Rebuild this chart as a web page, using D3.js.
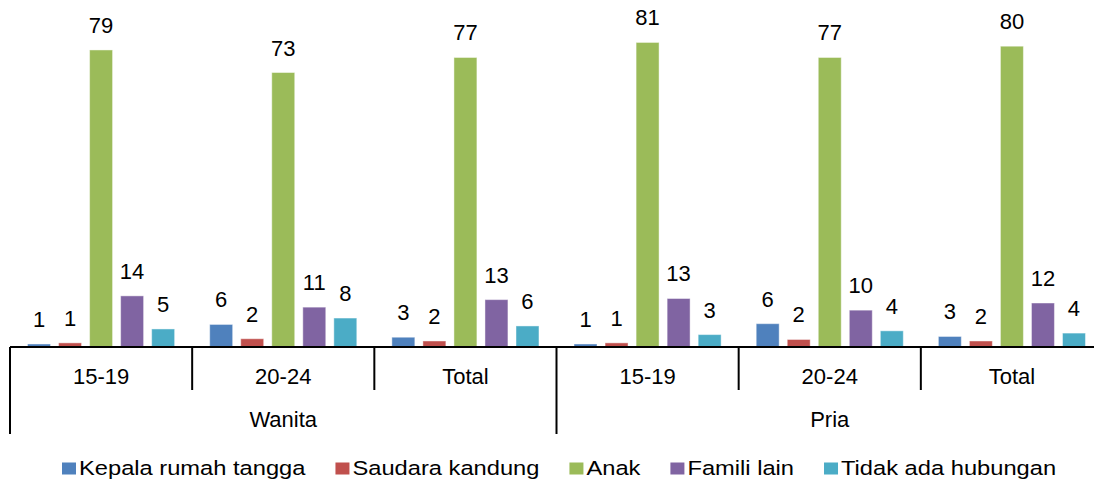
<!DOCTYPE html>
<html>
<head>
<meta charset="utf-8">
<script src="https://cdn.jsdelivr.net/npm/d3@7"></script>
<style>
  body { margin: 0; background: #fff; }
  svg { font-family: "Liberation Sans", Arial, sans-serif; display: block; }
</style>
</head>
<body>
<svg id="chart" width="1094" height="485"></svg>
<script>
// data
const sexes = ['Wanita', 'Pria'];
const ages = ['15-19', '20-24', 'Total'];
const seriesNames = ['Kepala rumah tangga', 'Saudara kandung', 'Anak', 'Famili lain', 'Tidak ada hubungan'];
const seriesColors = ['#4F81BD', '#C0504D', '#9BBB59', '#8064A2', '#4BACC6'];

// one array per series, in order: Wanita 15-19, 20-24, Total, Pria 15-19, 20-24, Total
const kepala = [0.8, 6.0, 2.6, 0.8, 6.2, 2.8];
const saudara = [1.1, 2.2, 1.6, 1.1, 2.0, 1.6];
const anak = [79, 73, 77, 81, 77, 80];
const famili = [13.6, 10.6, 12.6, 12.9, 9.8, 11.7];
const tidak = [4.8, 7.7, 5.6, 3.3, 4.3, 3.7];

const seriesValues = [kepala, saudara, anak, famili, tidak];

const categories = [];
sexes.forEach(s => ages.forEach(a => categories.push({ sex: s, age: a, key: s + ' ' + a })));

const svg = d3.select('#chart');
const axisY = 347;
const left = 10, right = 1103;

const x0 = d3.scaleBand()
    .domain(categories.map(c => c.key))
    .range([left, right]);

const x1 = d3.scaleBand()
    .domain(seriesNames)
    .range([0, x0.bandwidth()])
    .paddingInner(0.26)
    .paddingOuter(0.565);

const y = d3.scaleLinear()
    .domain([0, 90])
    .range([axisY, axisY - 90 * 3.76]);

const fmt = d3.format('.0f');

// bars
categories.forEach((c, i) => {
    const g = svg.append('g').attr('transform', `translate(${x0(c.key)},0)`);
    seriesNames.forEach((name, j) => {
        const v = seriesValues[j][i];
        g.append('rect')
            .attr('x', x1(name))
            .attr('y', y(v))
            .attr('width', x1.bandwidth())
            .attr('height', axisY - y(v))
            .style('fill', seriesColors[j])
            .style('stroke', '#fff')
            .style('stroke-opacity', 0.45)
            .style('stroke-width', 1);
        g.append('text')
            .attr('x', x1(name) + x1.bandwidth() / 2)
            .attr('y', y(v) - 17)
            .attr('text-anchor', 'middle')
            .style('font-size', '22px')
            .style('fill', '#000')
            .text(fmt(v));
    });
});

// category axis: age labels
const axis = svg.append('g');
axis.append('line')
    .attr('x1', left).attr('x2', right)
    .attr('y1', axisY).attr('y2', axisY)
    .style('stroke', '#000').style('stroke-width', 2);

categories.forEach((c, i) => {
    const xs = x0(c.key);
    const outer = i % ages.length === 0;
    axis.append('line')
        .attr('x1', xs).attr('x2', xs)
        .attr('y1', axisY).attr('y2', outer ? 434 : 390)
        .style('stroke', '#000').style('stroke-width', 2);
    axis.append('text')
        .attr('x', xs + x0.bandwidth() / 2)
        .attr('y', 383.5)
        .attr('text-anchor', 'middle')
        .style('font-size', '22px')
        .text(c.age);
});
axis.append('line')
    .attr('x1', right).attr('x2', right)
    .attr('y1', axisY).attr('y2', 434)
    .style('stroke', '#000').style('stroke-width', 2);

// sex labels
sexes.forEach(s => {
    const keys = categories.filter(c => c.sex === s).map(c => c.key);
    const a = x0(keys[0]);
    const b = x0(keys[keys.length - 1]) + x0.bandwidth();
    axis.append('text')
        .attr('x', (a + b) / 2)
        .attr('y', 427)
        .attr('text-anchor', 'middle')
        .style('font-size', '22px')
        .text(s);
});

// legend (text is a bit wider than the font, as in the original)
const stretch = 1.215;
const legend = svg.append('g');
let lx = 62;
seriesNames.forEach((name, j) => {
    legend.append('rect')
        .attr('x', lx).attr('y', 462.5)
        .attr('width', 14).attr('height', 12)
        .style('fill', seriesColors[j]);
    const t = legend.append('text')
        .attr('transform', `translate(${lx + 17},474.5) scale(${stretch},1)`)
        .style('font-size', '19.5px')
        .text(name);
    lx += 17 + t.node().getComputedTextLength() * stretch + 30;
});
</script>
</body>
</html>
